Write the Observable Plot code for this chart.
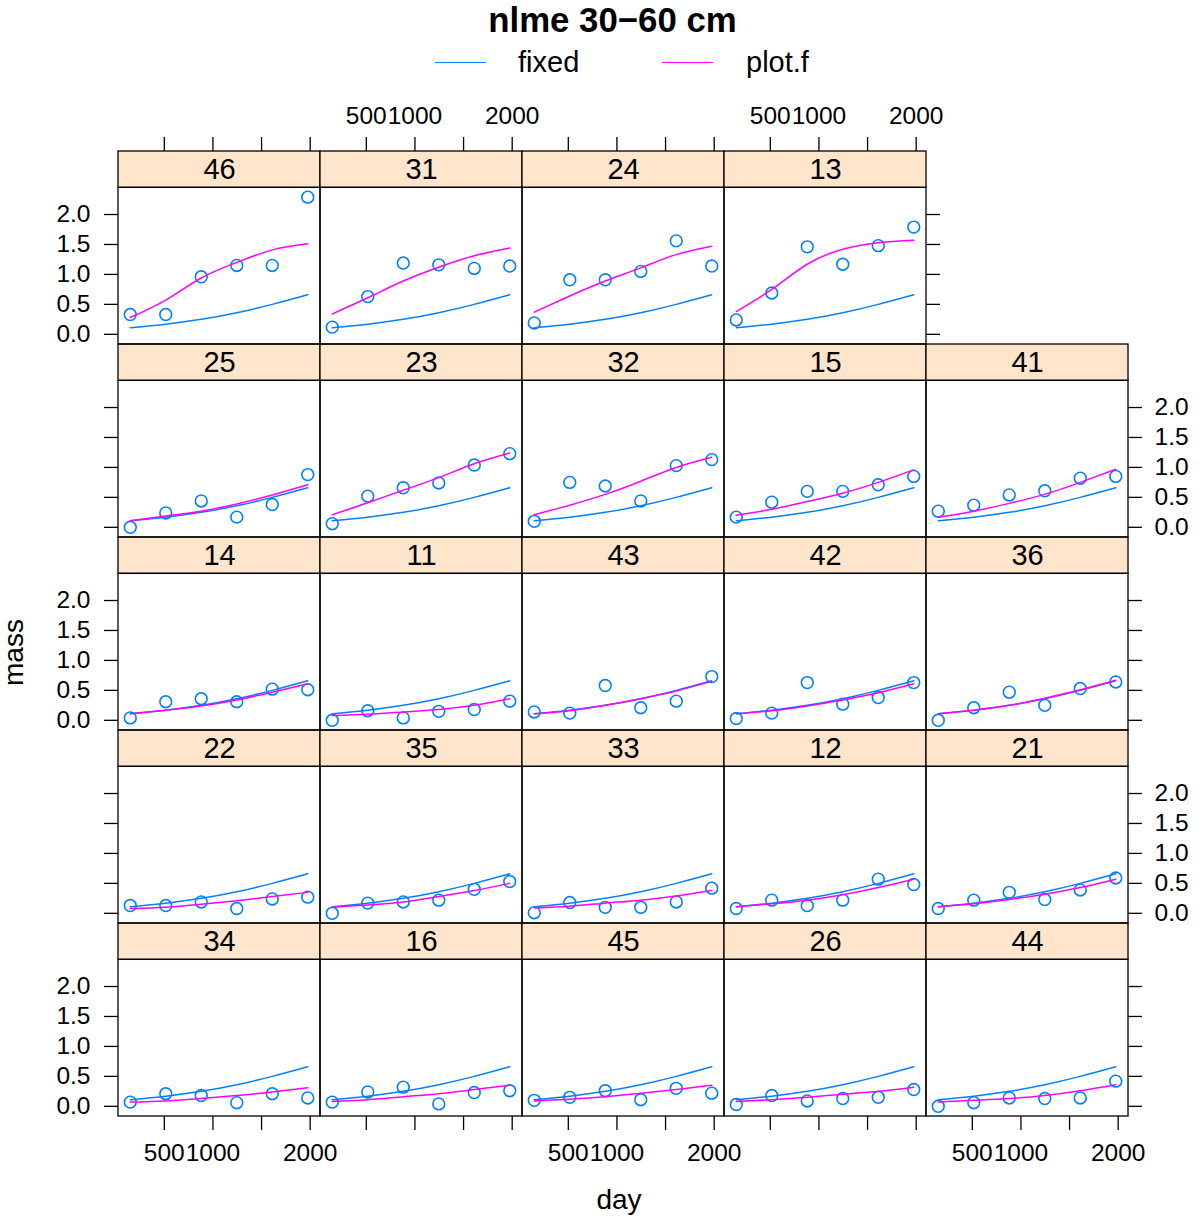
<!DOCTYPE html>
<html>
<head>
<meta charset="utf-8">
<script src="https://cdn.jsdelivr.net/npm/d3@7"></script>
<script src="https://cdn.jsdelivr.net/npm/@observablehq/plot@0.6"></script>
<style>
  html, body { margin: 0; padding: 0; background: #ffffff; }
  #wrap { position: relative; width: 1201px; height: 1220px; background: #ffffff;
          font-family: "Liberation Sans", Arial, Helvetica, sans-serif; color: #000; }
  .abs { position: absolute; white-space: nowrap; line-height: 1; }
  #title { left: 0; width: 1225px; top: 3px; text-align: center; font-weight: bold; font-size: 34.8px; }
  .swatch { position: absolute; height: 0; border-top: 1.5px solid; }
  .legtxt { top: 47.5px; font-size: 29px; }
  #chart { position: absolute; left: 0; top: 88px; }
  #xlab { left: 0; width: 1238px; top: 1186px; text-align: center; font-size: 28px; }
  #ylab { left: 1px; top: 686px; width: 60px; height: 26px; line-height: 26px; text-align: center; font-size: 28px;
          transform-origin: 0 0; transform: rotate(-90deg); }
</style>
</head>
<body>
<div id="wrap">
  <div id="title" class="abs">nlme 30−60 cm</div>
  <div class="swatch" style="left:435px; width:51px; top:61.5px; border-color:#0080ff"></div>
  <div class="abs legtxt" style="left:518px">fixed</div>
  <div class="swatch" style="left:662px; width:51px; top:61.5px; border-color:#ff00ff"></div>
  <div class="abs legtxt" style="left:746px">plot.f</div>
  <div id="chart"></div>
  <div id="xlab" class="abs">day</div>
  <div id="ylab" class="abs">mass</div>
</div>
<script>
// ---------------- data ----------------
// lattice layout of the panels (top row first), strip labels = plot id
const panelRows = [
  ["46", "31", "24", "13"],
  ["25", "23", "32", "15", "41"],
  ["14", "11", "43", "42", "36"],
  ["22", "35", "33", "12", "21"],
  ["34", "16", "45", "26", "44"]
];

// sampling days (yearly)
const days = [150, 515, 880, 1245, 1610, 1975];

// population ("fixed") curve, same in every panel
const fixedMass = [0.11, 0.17, 0.25, 0.36, 0.50, 0.66];

// panel ids in the order of the value arrays below
const panelIds = ["46","31","24","13","25","23","32","15","41","14","11","43","42","36",
                  "22","35","33","12","21","34","16","45","26","44"];

// observed mass (points)
const observedMass = [
  [0.33, 0.33, 0.96, 1.15, 1.15, 2.29], // 46
  [0.12, 0.63, 1.19, 1.16, 1.10, 1.14], // 31
  [0.19, 0.91, 0.91, 1.05, 1.56, 1.14], // 24
  [0.24, 0.69, 1.46, 1.17, 1.48, 1.79], // 13
  [0.00, 0.24, 0.44, 0.17, 0.38, 0.88], // 25
  [0.06, 0.52, 0.66, 0.74, 1.04, 1.23], // 23
  [0.10, 0.75, 0.69, 0.44, 1.03, 1.13], // 32
  [0.17, 0.42, 0.60, 0.60, 0.71, 0.85], // 15
  [0.27, 0.37, 0.54, 0.61, 0.82, 0.85], // 41
  [0.04, 0.31, 0.36, 0.31, 0.52, 0.51], // 14
  [0.00, 0.16, 0.04, 0.15, 0.18, 0.32], // 11
  [0.14, 0.12, 0.58, 0.21, 0.32, 0.73], // 43
  [0.03, 0.12, 0.63, 0.27, 0.38, 0.63], // 42
  [0.00, 0.21, 0.47, 0.25, 0.53, 0.64], // 36
  [0.13, 0.13, 0.19, 0.08, 0.24, 0.27], // 22
  [0.00, 0.17, 0.19, 0.22, 0.40, 0.53], // 35
  [0.01, 0.18, 0.10, 0.10, 0.19, 0.42], // 33
  [0.08, 0.22, 0.13, 0.22, 0.57, 0.48], // 12
  [0.08, 0.22, 0.35, 0.23, 0.39, 0.59], // 21
  [0.07, 0.21, 0.18, 0.06, 0.21, 0.14], // 34
  [0.07, 0.24, 0.32, 0.04, 0.23, 0.26], // 16
  [0.10, 0.15, 0.26, 0.11, 0.30, 0.22], // 45
  [0.03, 0.18, 0.09, 0.13, 0.15, 0.28], // 26
  [0.00, 0.06, 0.14, 0.13, 0.14, 0.42]  // 44
];

// per-plot fitted curve ("plot.f")
const fittedMass = [
  [0.28, 0.57, 0.94, 1.20, 1.41, 1.51], // 46
  [0.34, 0.61, 0.89, 1.12, 1.31, 1.44], // 31
  [0.37, 0.64, 0.89, 1.11, 1.33, 1.47], // 24
  [0.38, 0.75, 1.17, 1.42, 1.53, 1.57], // 13
  [0.11, 0.19, 0.27, 0.39, 0.54, 0.71], // 25
  [0.21, 0.41, 0.62, 0.83, 1.06, 1.24], // 23
  [0.21, 0.37, 0.55, 0.77, 1.00, 1.17], // 32
  [0.20, 0.30, 0.43, 0.57, 0.75, 0.96], // 15
  [0.17, 0.27, 0.40, 0.55, 0.75, 0.97], // 41
  [0.11, 0.17, 0.24, 0.34, 0.47, 0.61], // 14
  [0.08, 0.10, 0.14, 0.18, 0.25, 0.36], // 11
  [0.11, 0.16, 0.25, 0.36, 0.49, 0.65], // 43
  [0.11, 0.16, 0.24, 0.34, 0.46, 0.61], // 42
  [0.11, 0.17, 0.25, 0.37, 0.51, 0.67], // 36
  [0.08, 0.10, 0.15, 0.21, 0.28, 0.35], // 22
  [0.10, 0.14, 0.19, 0.28, 0.38, 0.50], // 35
  [0.09, 0.12, 0.17, 0.22, 0.29, 0.38], // 33
  [0.11, 0.16, 0.22, 0.31, 0.43, 0.57], // 12
  [0.11, 0.16, 0.23, 0.32, 0.43, 0.57], // 21
  [0.07, 0.09, 0.13, 0.18, 0.24, 0.31], // 34
  [0.08, 0.11, 0.16, 0.21, 0.28, 0.35], // 16
  [0.09, 0.12, 0.16, 0.22, 0.28, 0.35], // 45
  [0.08, 0.11, 0.15, 0.20, 0.25, 0.32], // 26
  [0.07, 0.10, 0.13, 0.18, 0.26, 0.36]  // 44
];

// axis ticks
const xTicks = [500, 1000, 1500, 2000];
const xTickLabels = ["500", "1000", "", "2000"];
const yTicks = [0, 0.5, 1, 1.5, 2];
const yTickLabels = ["0.0", "0.5", "1.0", "1.5", "2.0"];

// ---------------- layout constants ----------------
const xDomain = [29, 2106];          // panel x limits (day)
const yLo = -0.17, yPanelTop = 2.445; // panel y limits (mass)
const yStripTop = 3.052;              // strip sits above the panel inside the facet
const tickLen = 14;
const BLUE = "#0080ff", MAGENTA = "#ff00ff", STRIP = "#ffe5cc";
const nCols = d3.max(panelRows, r => r.length), nRows = panelRows.length;

// ---------------- derived tables ----------------
const panels = [];
panelRows.forEach((ids, r) => ids.forEach((id, c) => panels.push({id, row: r + 1, col: c + 1})));
const idx = id => panelIds.indexOf(id);

const obsRows = panels.flatMap(p => days.map((d, i) => ({...p, day: d, mass: observedMass[idx(p.id)][i]})));
const fitRows = panels.flatMap(p => days.map((d, i) => ({...p, day: d, mass: fittedMass[idx(p.id)][i]})));
const fixRows = panels.flatMap(p => days.map((d, i) => ({...p, day: d, mass: fixedMass[i]})));

const topPanels = panels.filter(p => p.row === 1);
const bottomPanels = panels.filter(p => p.row === nRows);
const leftPanels = panels.filter(p => p.col === 1);
const rightPanels = panelRows.map((ids, r) => ({row: r + 1, col: ids.length}));

const xt = ps => ps.flatMap(p => xTicks.map((t, i) => ({row: p.row, col: p.col, x: t, label: xTickLabels[i]})));
const yt = ps => ps.flatMap(p => yTicks.map((t, i) => ({row: p.row, col: p.col, y: t, label: yTickLabels[i]})));

const topTicks = xt(topPanels), bottomTicks = xt(bottomPanels);
const leftTicks = yt(leftPanels), rightTicks = yt(rightPanels);
const topLabels = topTicks.filter(d => d.col % 2 === 0);
const bottomLabels = bottomTicks.filter(d => d.col % 2 === 1);
const leftLabels = leftTicks.filter(d => d.row % 2 === 1);
const rightLabels = rightTicks.filter(d => d.row % 2 === 0);

const F = {fx: "col", fy: "row"};
const axisStyle = {stroke: "#000", strokeWidth: 1.3};
const tickFont = 24.5;

const chart = Plot.plot({
  width: 1201,
  height: 1132,
  marginTop: 62,
  marginBottom: 103.5,
  marginLeft: 116.3,
  marginRight: 71,
  style: {fontFamily: "'Liberation Sans', Arial, Helvetica, sans-serif", background: "transparent", color: "#000", overflow: "visible"},
  x: {domain: xDomain, axis: null},
  y: {domain: [yLo, yStripTop], axis: null},
  fx: {domain: d3.range(1, nCols + 1), padding: 0, axis: null},
  fy: {domain: d3.range(1, nRows + 1), padding: 0, axis: null},
  marks: [
    // strips
    Plot.rect(panels, {...F, x1: xDomain[0], x2: xDomain[1], y1: yPanelTop, y2: yStripTop, fill: STRIP, stroke: "#000", strokeWidth: 1.3}),
    Plot.text(panels, {...F, text: "id", frameAnchor: "top", lineAnchor: "middle", dy: 18.5, fontSize: 29, fill: "#000"}),
    // panel frames
    Plot.rect(panels, {...F, x1: xDomain[0], x2: xDomain[1], y1: yLo, y2: yPanelTop, fill: "none", stroke: "#000", strokeWidth: 1.3}),
    // data
    Plot.dot(obsRows, {...F, x: "day", y: "mass", r: 5.9, stroke: BLUE, strokeWidth: 1.6, fill: "none"}),
    Plot.line(fixRows, {...F, x: "day", y: "mass", z: "id", stroke: BLUE, strokeWidth: 1.5, curve: "natural"}),
    Plot.line(fitRows, {...F, x: "day", y: "mass", z: "id", stroke: MAGENTA, strokeWidth: 1.5, curve: "natural"}),
    // x axes (top / bottom)
    Plot.ruleX(topTicks, {...F, x: "x", y1: yStripTop, y2: yStripTop, insetTop: -tickLen, ...axisStyle}),
    Plot.ruleX(bottomTicks, {...F, x: "x", y1: yLo, y2: yLo, insetBottom: -tickLen, ...axisStyle}),
    Plot.text(topLabels, {...F, x: "x", y: yStripTop, text: "label", lineAnchor: "bottom", dy: -27.5, fontSize: tickFont, fill: "#000"}),
    Plot.text(bottomLabels, {...F, x: "x", y: yLo, text: "label", lineAnchor: "top", dy: 27.5, fontSize: tickFont, fill: "#000"}),
    // y axes (left / right)
    Plot.ruleY(leftTicks, {...F, y: "y", x1: xDomain[0], x2: xDomain[0], insetLeft: -tickLen, ...axisStyle}),
    Plot.ruleY(rightTicks, {...F, y: "y", x1: xDomain[1], x2: xDomain[1], insetRight: -tickLen, ...axisStyle}),
    Plot.text(leftLabels, {...F, x: xDomain[0], y: "y", text: "label", textAnchor: "end", dx: -28, fontSize: tickFont, fill: "#000"}),
    Plot.text(rightLabels, {...F, x: xDomain[1], y: "y", text: "label", textAnchor: "start", dx: 26, fontSize: tickFont, fill: "#000"})
  ]
});
document.getElementById("chart").appendChild(chart);
</script>
</body>
</html>
